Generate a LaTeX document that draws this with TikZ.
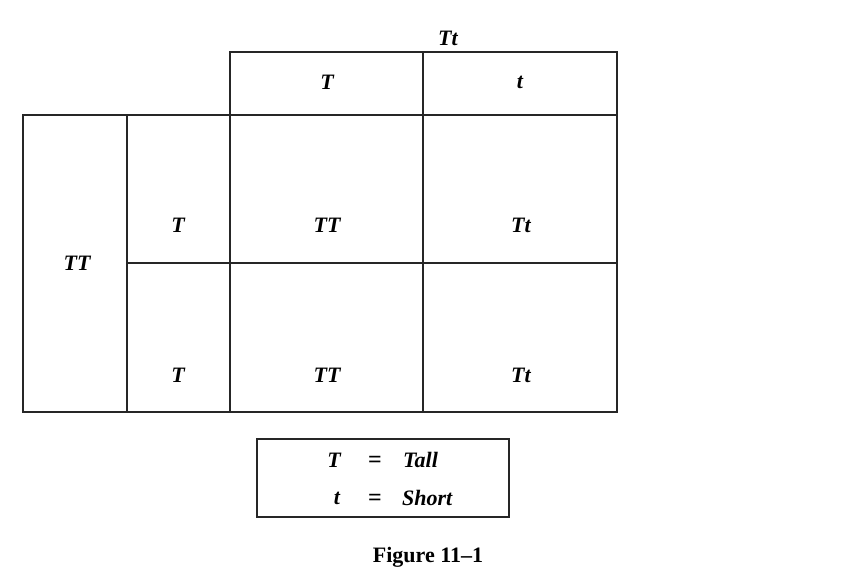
\documentclass[tikz,border=0pt]{standalone}
\usepackage{fontspec}
\setmainfont{Liberation Serif}
\begin{document}
\begin{tikzpicture}[x=1pt,y=-1pt,
  cellline/.style={draw=black!85,line width=1.3pt},
  lbl/.style={font=\fontsize{22}{26}\selectfont\bfseries\itshape,inner sep=0pt},
  eqsign/.style={font=\fontsize{24}{28}\selectfont\bfseries,inner sep=0pt},
  figcaption/.style={font=\fontsize{22}{26}\selectfont\bfseries,inner sep=0pt}]
\useasboundingbox (0,0) rectangle (850,576);
% top header
\draw[cellline] (230,52) rectangle (423,115);
\draw[cellline] (423,52) rectangle (617,115);
% left column
\draw[cellline] (23,115) rectangle (127,412);
\draw[cellline] (127,115) rectangle (230,263);
\draw[cellline] (127,263) rectangle (230,412);
% grid
\draw[cellline] (230,115) rectangle (423,263);
\draw[cellline] (423,115) rectangle (617,263);
\draw[cellline] (230,263) rectangle (423,412);
\draw[cellline] (423,263) rectangle (617,412);
% labels
\node[lbl] (top) at (448,38) {Tt};
\node[lbl] (hT) at (327,82) {T};
\node[lbl] (ht) at (520,82) {t};
\node[lbl] (left) at (77,263) {TT};
\node[lbl] (r1) at (178,225) {T};
\node[lbl] (r2) at (178,375) {T};
\node[lbl] (c11) at (327,225) {TT};
\node[lbl] (c12) at (521,225) {Tt};
\node[lbl] (c21) at (327,375) {TT};
\node[lbl] (c22) at (521,375) {Tt};
% legend
\draw[cellline] (257,439) rectangle (509,517);
\node[lbl] (kT) at (334,460) {T};
\node[eqsign] (e1) at (375,462) {=};
\node[lbl,anchor=west] (vT) at (403,460) {Tall};
\node[lbl] (kt) at (337,498) {t};
\node[eqsign] (e2) at (375,500) {=};
\node[lbl,anchor=west] (vt) at (402,498) {Short};
\node[figcaption] (fig) at (428,557) {Figure 11–1};
\end{tikzpicture}
\end{document}
